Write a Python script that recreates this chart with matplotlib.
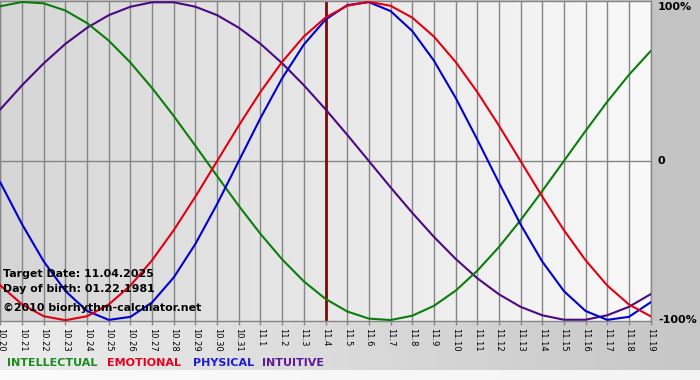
import matplotlib
matplotlib.use("Agg")
import matplotlib.pyplot as plt
import numpy as np
from matplotlib.colors import LinearSegmentedColormap

# ---- data ----
day_labels = ["10.20", "10.21", "10.22", "10.23", "10.24", "10.25", "10.26", "10.27",
              "10.28", "10.29", "10.30", "10.31", "11.1", "11.2", "11.3", "11.4",
              "11.5", "11.6", "11.7", "11.8", "11.9", "11.10", "11.11", "11.12",
              "11.13", "11.14", "11.15", "11.16", "11.17", "11.18", "11.19"]

physical = [-0.136, -0.398, -0.631, -0.817, -0.942, -0.998, -0.979, -0.888, -0.731, -0.520,
            -0.270, 0.000, 0.270, 0.520, 0.731, 0.888, 0.979, 0.998, 0.942, 0.817,
            0.631, 0.398, 0.136, -0.136, -0.398, -0.631, -0.817, -0.942, -0.998, -0.979,
            -0.888]
emotional = [-0.782, -0.901, -0.975, -1.000, -0.975, -0.901, -0.782, -0.623, -0.434, -0.223,
             0.000, 0.223, 0.434, 0.623, 0.782, 0.901, 0.975, 1.000, 0.975, 0.901,
             0.782, 0.623, 0.434, 0.223, 0.000, -0.223, -0.434, -0.623, -0.782, -0.901,
             -0.975]
intellectual = [0.972, 0.999, 0.990, 0.945, 0.866, 0.756, 0.618, 0.458, 0.282, 0.095,
                -0.095, -0.282, -0.458, -0.618, -0.756, -0.866, -0.945, -0.990, -0.999, -0.972,
                -0.910, -0.815, -0.690, -0.541, -0.372, -0.189, 0.000, 0.189, 0.372, 0.541,
                0.690]
intuitive = [0.325, 0.476, 0.614, 0.736, 0.837, 0.916, 0.969, 0.997, 0.997, 0.969,
             0.916, 0.837, 0.736, 0.614, 0.476, 0.325, 0.165, 0.000, -0.165, -0.325,
             -0.476, -0.614, -0.736, -0.837, -0.916, -0.969, -0.997, -0.997, -0.969, -0.916,
             -0.837]

target_label = "11.4"
legend_names = ["INTELLECTUAL", "EMOTIONAL", "PHYSICAL", "INTUITIVE"]
y_labels = ["100%", "0", "-100%"]
y_label_vals = [1, 0, -1]
info_lines = ["Target Date: 11.04.2025", "Day of birth: 01.22.1981",
              "\u00a92010 biorhythm-calculator.net"]

# ---- styles ----
W, H = 700, 380
line_colors = {"INTELLECTUAL": "#0b7d0b", "EMOTIONAL": "#e00010",
               "PHYSICAL": "#0000d2", "INTUITIVE": "#4b0a82"}
text_colors = {"INTELLECTUAL": "#1c8a1c", "EMOTIONAL": "#e8001c",
               "PHYSICAL": "#1a1ad8", "INTUITIVE": "#5e1a96"}

fig = plt.figure(figsize=(W / 100, H / 100), dpi=100)

# background
bg = fig.add_axes([0, 0, 1, 1])
bg.set_xlim(0, W)
bg.set_ylim(H, 0)
bg.axis("off")
bg.set_facecolor("#c4c4c4")
bg.add_patch(plt.Rectangle((0, 0), W, H, color="#c4c4c4", zorder=0))
bottom_cmap = LinearSegmentedColormap.from_list("b", ["#ececec", "#dadada", "#c6c6c6"])
grad = np.linspace(0, 1, 256).reshape(1, -1)
bg.imshow(grad, cmap=bottom_cmap, extent=[0, W, 370, 321], aspect="auto", zorder=1)
low_cmap = LinearSegmentedColormap.from_list("l", ["#fbfbfb", "#f4f4f4"])
bg.imshow(grad, cmap=low_cmap, extent=[0, W, H, 370], aspect="auto", zorder=1)

# plot area
px_left, px_right, px_top, px_bottom = 0, 651, 1, 321
ax = fig.add_axes([px_left / W, 1 - px_bottom / H, (px_right - px_left) / W,
                   (px_bottom - px_top) / H])
x = np.arange(len(day_labels))
n = len(day_labels)
ax.set_xlim(-0.02, n - 1 + 0.02)
ax.set_ylim(-1.005, 1.005)

plot_cmap = LinearSegmentedColormap.from_list("p", ["#d6d6d6", "#e8e8e8", "#f9f9f9"])
ax.imshow(grad, cmap=plot_cmap, extent=[-0.02, n - 1 + 0.02, -1.005, 1.005],
          aspect="auto", zorder=0)

for xi in x:
    ax.axvline(xi, color="#858585", lw=1.0, zorder=1)
ax.axhline(0, color="#858585", lw=1.0, zorder=1)
ax.axvline(day_labels.index(target_label), color="#7a0a0a", lw=2.0, zorder=2)

series = {"INTELLECTUAL": intellectual, "EMOTIONAL": emotional,
          "PHYSICAL": physical, "INTUITIVE": intuitive}
for name in ["INTUITIVE", "INTELLECTUAL", "PHYSICAL", "EMOTIONAL"]:
    ax.plot(x, series[name], color=line_colors[name], lw=1.5, zorder=3,
            solid_joinstyle="round")

ax.set_xticks(x)
ax.set_xticklabels(day_labels, rotation=-90, fontsize=6, family="DejaVu Sans")
ax.tick_params(axis="x", direction="out", length=3, width=1, color="#858585", pad=2)
ax.set_yticks([])
for s in ax.spines.values():
    s.set_color("#858585")
    s.set_linewidth(1)

# right axis labels
for lab, v in zip(y_labels, y_label_vals):
    ypx = px_top + (1.005 - v) / 2.01 * (px_bottom - px_top)
    if v == 1:
        ypx = 7
    fig.text(658 / W, 1 - ypx / H, lab, fontsize=8, fontweight="bold",
             ha="left", va="center", color="black", family="DejaVu Sans")

# info text
for txt, ypx in zip(info_lines, [277, 292, 311]):
    fig.text(3 / W, 1 - ypx / H, txt, fontsize=7.9, fontweight="bold",
             ha="left", va="baseline", color="black", family="DejaVu Sans", zorder=10)

# legend
leg_x = [7, 107, 193, 262]
for name, lx in zip(legend_names, leg_x):
    fig.text(lx / W, 1 - 366 / H, name, fontsize=8, fontweight="bold",
             ha="left", va="baseline", color=text_colors[name], family="DejaVu Sans")

fig.savefig("out.png", dpi=100)
